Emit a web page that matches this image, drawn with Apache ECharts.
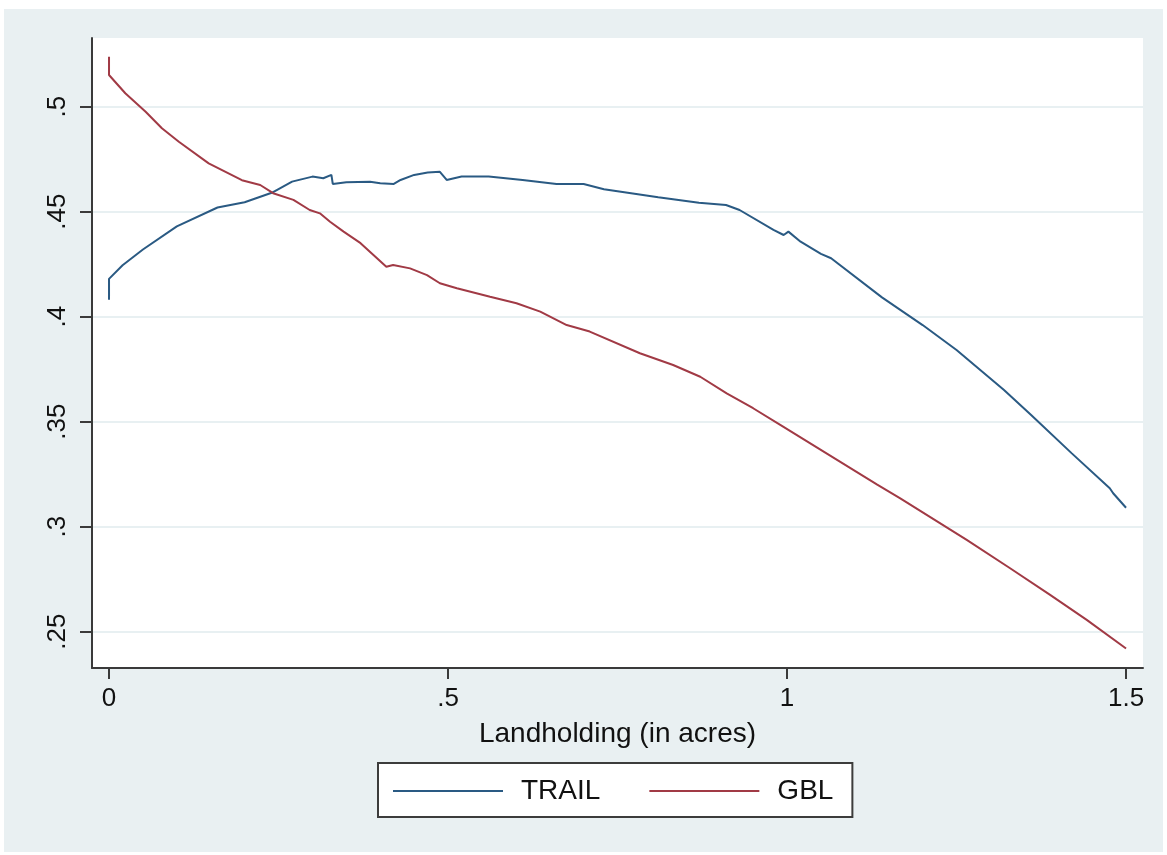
<!DOCTYPE html>
<html>
<head>
<meta charset="utf-8">
<script src="https://cdn.jsdelivr.net/npm/echarts@6/dist/echarts.min.js"></script>
<style>
  html, body { margin: 0; padding: 0; background: #fff; }
  #chart { width: 1167px; height: 855px; }
</style>
</head>
<body>
<div id="chart"></div>
<script>
// values (landholding in acres -> predicted share)
const trailX = [0, 0, 0.02, 0.05, 0.10, 0.16, 0.20, 0.24, 0.27, 0.30, 0.316, 0.328, 0.330, 0.35, 0.385, 0.40, 0.42, 0.43, 0.45, 0.47, 0.488, 0.498, 0.52, 0.56, 0.61, 0.66, 0.70, 0.73, 0.81, 0.87, 0.91, 0.93, 0.98, 0.995, 1.002, 1.02, 1.05, 1.065, 1.14, 1.20, 1.25, 1.32, 1.36, 1.42, 1.476, 1.481, 1.50];
const trailY = [0.408, 0.418, 0.4245, 0.432, 0.443, 0.452, 0.4545, 0.459, 0.4643, 0.4667, 0.4659, 0.4675, 0.4632, 0.464, 0.4643, 0.4635, 0.4632, 0.4651, 0.4675, 0.4686, 0.469, 0.4651, 0.4667, 0.4667, 0.4651, 0.4632, 0.4632, 0.4607, 0.4569, 0.4543, 0.4532, 0.4508, 0.4413, 0.4389, 0.4405, 0.4357, 0.4299, 0.4278, 0.4092, 0.396, 0.3841, 0.3651, 0.3532, 0.3349, 0.3183, 0.3159, 0.309];

const gblX = [0, 0, 0.024, 0.054, 0.078, 0.103, 0.147, 0.196, 0.223, 0.242, 0.272, 0.296, 0.311, 0.326, 0.346, 0.371, 0.390, 0.409, 0.419, 0.444, 0.469, 0.488, 0.513, 0.562, 0.601, 0.636, 0.675, 0.709, 0.783, 0.832, 0.872, 0.911, 0.950, 0.990, 1.133, 1.167, 1.265, 1.329, 1.388, 1.442, 1.50];
const gblY = [0.5238, 0.5151, 0.5064, 0.4976, 0.4897, 0.4833, 0.473, 0.465, 0.4627, 0.4588, 0.4556, 0.4508, 0.4492, 0.4452, 0.4405, 0.435, 0.4294, 0.4238, 0.4246, 0.423, 0.4198, 0.4159, 0.4135, 0.4095, 0.4064, 0.4024, 0.396, 0.3929, 0.3826, 0.377, 0.3714, 0.3635, 0.3564, 0.3485, 0.320, 0.3135, 0.2937, 0.2802, 0.2675, 0.2556, 0.242];

const xTicks = [0, 0.5, 1, 1.5];
const yTicks = [0.25, 0.3, 0.35, 0.4, 0.45, 0.5];

const seriesNames = ['TRAIL', 'GBL'];

const font = 'Liberation Sans, Arial, Helvetica, sans-serif';

// stata style: drop the leading zero
function stataNum(v) {
  if (v === 0) return '0';
  return String(+v.toFixed(2)).replace(/^0\./, '.');
}

const zip = (xs, ys) => xs.map((x, i) => [x, ys[i]]);

const chart = echarts.init(document.getElementById('chart'), null, { renderer: 'canvas' });

chart.setOption({
  animation: false,
  backgroundColor: 'transparent',
  textStyle: { fontFamily: font },
  graphic: [
    {
      type: 'rect',
      z: -10,
      silent: true,
      shape: { x: 4, y: 9, width: 1159, height: 843 },
      style: { fill: '#e9f0f2' }
    }
  ],
  grid: {
    left: 92,
    right: 24,
    top: 38,
    bottom: 187,
    show: true,
    backgroundColor: '#fff',
    borderWidth: 0
  },
  xAxis: {
    type: 'value',
    min: -0.0251,
    max: 1.525,
    name: 'Landholding (in acres)',
    nameLocation: 'middle',
    nameGap: 52,
    nameTextStyle: { fontSize: 28, color: '#111', fontFamily: font },
    axisLine: { onZero: false, lineStyle: { color: '#3a3a3a', width: 2 } },
    axisTick: { show: true, length: 11, customValues: xTicks, lineStyle: { color: '#3a3a3a', width: 2 } },
    axisLabel: { customValues: xTicks, fontSize: 26, color: '#111', margin: 18, formatter: stataNum },
    splitLine: { show: false }
  },
  yAxis: {
    type: 'value',
    min: 0.2327,
    max: 0.5327,
    axisLine: { show: true, onZero: false, lineStyle: { color: '#3a3a3a', width: 2 } },
    axisTick: { show: true, length: 12, customValues: yTicks, lineStyle: { color: '#3a3a3a', width: 2 } },
    axisLabel: { customValues: yTicks, rotate: 90, fontSize: 26, color: '#111', margin: 21, formatter: stataNum },
    splitLine: { show: true, lineStyle: { color: '#e8f0f2', width: 2 } }
  },
  legend: {
    data: seriesNames,
    left: 378,
    top: 763,
    orient: 'horizontal',
    backgroundColor: '#fff',
    borderColor: '#3c3c3c',
    borderWidth: 2,
    borderRadius: 0,
    padding: [14, 19, 12, 15],
    itemGap: 49,
    itemWidth: 110,
    itemHeight: 2,
    icon: 'rect',
    textStyle: { fontSize: 28, color: '#111', fontFamily: font, padding: [0, 0, 0, 13] }
  },
  series: [
    {
      name: 'TRAIL',
      type: 'line',
      data: zip(trailX, trailY),
      showSymbol: false,
      symbol: 'none',
      color: '#2a5a83',
      lineStyle: { color: '#2a5a83', width: 2 }
    },
    {
      name: 'GBL',
      type: 'line',
      data: zip(gblX, gblY),
      showSymbol: false,
      symbol: 'none',
      color: '#a13a45',
      lineStyle: { color: '#a13a45', width: 2 }
    }
  ]
});
</script>
</body>
</html>
